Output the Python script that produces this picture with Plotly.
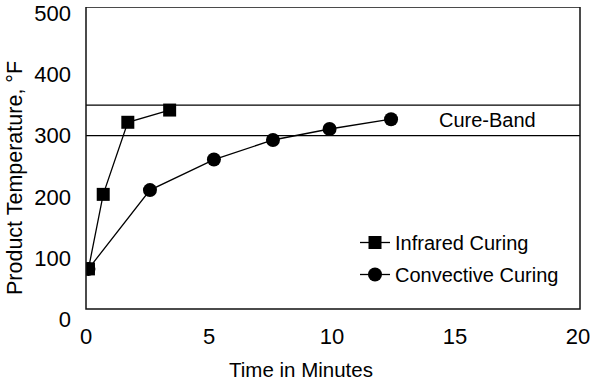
import plotly.graph_objects as go

# Time (minutes) and product temperature (°F) for each curing method
ir_time = [0.1, 0.7, 1.7, 3.4]
ir_temp = [82, 204, 322, 342]

conv_time = [0.1, 2.6, 5.2, 7.6, 9.9, 12.4]
conv_temp = [82, 211, 261, 293, 311, 327]

# Cure band limits (°F)
band_limits = [300, 350]
band_label = "Cure-Band"

x_ticks = [0, 5, 10, 15, 20]
y_ticks = [0, 100, 200, 300, 400, 500]

FONT = "Liberation Sans, Arial, Helvetica, sans-serif"

fig = go.Figure()

fig.add_trace(go.Scatter(
    x=ir_time, y=ir_temp, mode="lines+markers", name="Infrared Curing",
    legendgroup="ir",
    line=dict(color="black", width=1.3),
    marker=dict(symbol="square", size=13, color="black"),
))
fig.add_trace(go.Scatter(
    x=conv_time, y=conv_temp, mode="lines+markers", name="Convective Curing",
    legendgroup="conv",
    line=dict(color="black", width=1.3),
    marker=dict(symbol="circle", size=14, color="black"),
))

shapes = []
# cure band boundaries
for lim in band_limits:
    shapes.append(dict(type="line", xref="x domain", yref="y", x0=0, x1=1,
                       y0=lim, y1=lim, line=dict(color="black", width=1.3)))
# plot frame
shapes.append(dict(type="rect", xref="x domain", yref="y", x0=0, x1=1,
                   y0=16.4, y1=510.7, line=dict(color="#111", width=1.5),
                   fillcolor="rgba(0,0,0,0)"))

# layout geometry in pixels
W, H = 590, 384
L, R, T, B = 86, 10, 7, 65
pw, ph = W - L - R, H - T - B

annotations = [
    dict(text=band_label, x=16.3, y=sum(band_limits) / 2, xref="x", yref="y",
         showarrow=False, font=dict(size=20, color="black", family=FONT)),
    dict(text="Time in Minutes", x=(301 - L) / pw, y=(H - B - 369) / ph,
         xref="paper", yref="paper", xanchor="center", yanchor="middle",
         showarrow=False, font=dict(size=20.5, color="black", family=FONT)),
    dict(text="Product Temperature, °F", textangle=-90,
         x=(15 - L) / pw, y=(H - B - 178) / ph, xref="paper", yref="paper",
         xanchor="center", yanchor="middle",
         showarrow=False, font=dict(size=21.5, color="black", family=FONT)),
]

fig.update_layout(
    width=W, height=H,
    margin=dict(l=L, r=R, t=T, b=B, autoexpand=False),
    paper_bgcolor="white", plot_bgcolor="white",
    font=dict(family=FONT, color="black", size=20),
    shapes=shapes,
    annotations=annotations,
    showlegend=True,
    legend=dict(
        x=(355 - L) / pw, y=(H - B - 223) / ph, xanchor="left", yanchor="top",
        font=dict(size=20, family=FONT, color="black"),
        bgcolor="rgba(0,0,0,0)", tracegroupgap=3, traceorder="grouped",
    ),
    xaxis=dict(range=[0, 20.08], tickvals=x_ticks, showgrid=False, zeroline=False,
               showline=False, ticks="", tickfont=dict(size=22, family=FONT),
               ticklabelstandoff=2, ticklabeloverflow="allow",
               automargin=False, fixedrange=True),
    yaxis=dict(range=[0, 510.7], tickvals=y_ticks, showgrid=False, zeroline=False,
               showline=False, ticks="", tickfont=dict(size=22, family=FONT),
               ticklabelstandoff=14, ticklabeloverflow="allow",
               automargin=False, fixedrange=True),
)

fig.write_html("out.html")
